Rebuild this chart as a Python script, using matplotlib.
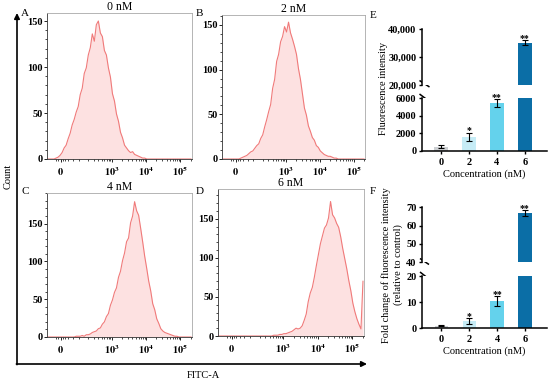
import numpy as np
import matplotlib.pyplot as plt
from matplotlib.ticker import FuncFormatter

plt.rcParams['font.family'] = ['Liberation Serif', 'DejaVu Serif']
plt.rcParams['mathtext.fontset'] = 'stix'

W, H = 550, 382

# ---- flow cytometry histograms (counts per channel bin, 72 bins) ----
hist_titles = ['0 nM', '2 nM', '4 nM', '6 nM']
hist_letters = ['A', 'B', 'C', 'D']
counts_0nM = [0, 0, 0, 0,
              1, 2, 4, 7, 12, 15, 22, 28, 37, 43, 51, 57, 70, 77, 93, 99, 113, 121, 136, 128,
              146, 150, 137, 133, 118, 113, 99, 89, 71, 63, 49, 41, 29, 23, 15, 12, 9, 7, 8, 5,
              4, 3, 2, 1, 1,
              0, 0, 0, 0, 0, 0, 0, 0, 0, 0, 0, 0, 0, 0, 0, 0, 0, 0, 0, 0, 0, 0, 0]
counts_2nM = [0, 0, 0, 0, 0, 0, 0, 0, 0,
              1, 2, 3, 4, 6, 8, 9, 12, 15, 17, 23, 27, 36, 44, 53, 61, 79, 89, 109, 117, 131,
              137, 148, 142, 153, 141, 134, 126, 117, 101, 89, 73, 57, 49, 37, 31, 24, 21, 15,
              13, 9, 7, 5, 4, 3, 3, 2, 1, 1,
              0, 0, 0, 0, 0, 0, 0, 0, 0, 0, 0, 0, 0, 0]
counts_4nM = [0, 0, 0, 0, 0, 0, 0, 0, 0, 0, 0, 0, 0, 0,
              1, 1, 1, 2, 1, 3, 3, 4, 6, 7, 8, 11, 12, 17, 20, 27, 31, 42, 49, 59, 65, 79, 87,
              101, 111, 126, 131, 151, 160, 179, 167, 161, 144, 126, 107, 91, 74, 61, 44, 36,
              24, 18, 11, 8, 6, 5, 4, 3, 2, 1, 1,
              0, 0, 0, 0, 0, 0, 0]
counts_6nM = [0, 0, 0, 0, 0, 0, 0, 0, 0, 0, 0, 0, 0, 0, 0, 0, 0, 0, 0, 0, 0, 0, 0, 0, 0, 0, 0,
              1, 1, 1, 2, 2, 3, 3, 4, 5, 6, 8, 10, 9, 10, 13, 20, 28, 44, 55, 62, 75, 90, 104,
              118, 128, 138, 142, 151, 172, 155, 151, 144, 139, 127, 112, 99, 86, 71, 58, 42,
              31, 22, 15, 9, 70]
hist_counts = [counts_0nM, counts_2nM, counts_4nM, counts_6nM]
hist_ymax = [158.7, 161, 190.5, 188]

# ---- bar charts ----
conc = ['0', '2', '4', '6']
intensity = [500, 1600, 5500, 35200]
intensity_err = [180, 500, 450, 900]
fold = [1.0, 2.8, 10.3, 66.8]
fold_err = [0.2, 1.1, 1.9, 1.8]
stars = ['', '*', '**', '**']
bar_colors = ['#cdd0d3', '#c6ecf6', '#64d2ec', '#0b6ea6']


def box(l, t, r, b):
    return [l / W, 1 - b / H, (r - l) / W, (b - t) / H]


fig = plt.figure(figsize=(W / 100, H / 100), dpi=100)

# overlay in pixel coordinates for arrows, letters and shared labels
ov = fig.add_axes([0, 0, 1, 1])
ov.set_xlim(0, W)
ov.set_ylim(H, 0)
ov.axis('off')

# biexponential-like display scale
C = 65.0
u_lo, u_hi = -0.925, 8.81


def fwd(x):
    return np.arcsinh(np.asarray(x, dtype=float) / C)


def inv(u):
    return C * np.sinh(np.asarray(u, dtype=float))


u_edges = np.linspace(u_lo, u_hi, 73)
centers = inv(0.5 * (u_edges[:-1] + u_edges[1:]))

hist_boxes = [(47, 13, 192, 159), (222, 15, 365, 159), (47, 193, 192, 337), (218, 189, 364, 336)]
minor_x = [-20, -10, 10, 20, 35, 60, 100] + [k * 10 ** n for n in (2, 3, 4) for k in range(2, 10)] + [2e5]

for i, (bx, counts) in enumerate(zip(hist_boxes, hist_counts)):
    ax = fig.add_axes(box(*bx))
    ax.set_xscale('function', functions=(fwd, inv))
    ax.fill_between(centers, counts, color='#fde1e1', lw=0)
    ax.plot(centers, counts, color='#f07a7a', lw=0.8)
    ax.set_xlim(inv(u_lo), inv(u_hi))
    ax.set_ylim(0, hist_ymax[i])
    ax.set_xticks([0, 1e3, 1e4, 1e5])
    ax.set_xticklabels([r'$\mathbf{0}$', r'$\mathbf{10^{3}}$', r'$\mathbf{10^{4}}$', r'$\mathbf{10^{5}}$'])
    ax.set_xticks(minor_x, minor=True)
    ax.set_yticks([0, 50, 100, 150])
    ax.set_yticks(np.arange(10, hist_ymax[i], 10), minor=True)
    ax.tick_params(axis='both', which='major', length=2.2, width=0.6, labelsize=7.5, pad=1.0)
    ax.tick_params(axis='x', which='major', pad=2.5)
    ax.tick_params(axis='both', which='minor', length=1.2, width=0.5)
    for lab in ax.get_yticklabels():
        lab.set_fontweight('bold')
    for s in ('left', 'bottom'):
        ax.spines[s].set_color('#333333')
        ax.spines[s].set_linewidth(0.6)
    for s in ('top', 'right'):
        ax.spines[s].set_color('#a8a8a8')
        ax.spines[s].set_linewidth(0.6)
    ax.set_title(hist_titles[i], fontsize=8.5, pad=1.5)

# panel letters
letters = ['A', 'B', 'C', 'D', 'E', 'F']
letter_pos = [(25, 13), (199, 13.5), (25, 191), (200, 192), (373, 15), (373, 191)]
for t, (x, y) in zip(letters, letter_pos):
    ov.text(x, y, t, fontsize=8, ha='center', va='center')

# shared axes arrows
arrow_kw = dict(arrowstyle='-|>', lw=1.2, color='black', mutation_scale=8, shrinkA=0, shrinkB=0)
ov.annotate('', xy=(17, 13), xytext=(17, 364.6), arrowprops=arrow_kw)
ov.annotate('', xy=(367, 364), xytext=(16.4, 364), arrowprops=arrow_kw)
ov.text(8, 176, 'Count', rotation=90, fontsize=7.5, ha='center', va='center')
ov.text(203, 375, 'FITC-A', fontsize=7.5, ha='center', va='center')


def broken_bars(top_box, bot_box, top_lim, bot_lim, top_ticks, bot_ticks, top_fmt,
                values, errs, brk_top, brk_bot):
    x = np.arange(len(conc))
    axes = []
    for bx, lim in ((top_box, top_lim), (bot_box, bot_lim)):
        ax = fig.add_axes(box(*bx))
        ax.bar(x, values, width=0.475, color=bar_colors, yerr=errs,
               error_kw=dict(ecolor='black', elinewidth=0.8, capsize=2.3, capthick=0.8))
        ax.set_xlim(-0.70, 3.79)
        ax.set_ylim(*lim)
        ax.spines['top'].set_visible(False)
        ax.spines['right'].set_visible(False)
        ax.spines['left'].set_linewidth(1.1)
        ax.spines['bottom'].set_linewidth(1.1)
        ax.tick_params(axis='both', length=2.5, width=1.0, labelsize=7.5, pad=1.2)
        axes.append(ax)
    top, bot = axes
    top.spines['bottom'].set_visible(False)
    top.set_xticks([])
    top.set_yticks(top_ticks)
    top.yaxis.set_major_formatter(FuncFormatter(top_fmt))
    bot.set_yticks(bot_ticks)
    bot.set_xticks(x)
    bot.set_xticklabels(conc)
    bot.tick_params(axis='x', pad=2.5)
    for ax in axes:
        for lab in ax.get_xticklabels() + ax.get_yticklabels():
            lab.set_fontweight('bold')
    bot.set_xlabel('Concentration (nM)', fontsize=7.5, labelpad=1.5)
    for i, (v, e, s) in enumerate(zip(values, errs, stars)):
        if not s:
            continue
        ax = top if v + e > bot_lim[1] else bot
        ax.annotate(s, (i, v + e), xytext=(0, -0.6), textcoords='offset points',
                    ha='center', va='baseline', fontsize=7, fontweight='bold')
    for (x0, y0, x1, y1) in (brk_top, brk_bot):
        ov.plot([x0, x1], [y0, y1], color='black', lw=1.1, solid_capstyle='butt')
    return top, bot


broken_bars((421.5, 29.3, 547, 85.3), (421.5, 98.3, 547, 151),
            (20000, 40000), (0, 6000), [20000, 30000, 40000], [0, 2000, 4000, 6000],
            lambda v, p: f'{v:,.0f}', intensity, intensity_err,
            (419.5, 80.5, 429.5, 87), (419.5, 94, 427.5, 100))
ov.text(383, 88, 'Fluorescence intensity', rotation=90, fontsize=7.5, ha='center', va='center')

broken_bars((421.7, 207.3, 547, 262.3), (421.7, 276, 547, 328.3),
            (40, 70), (0, 20), [40, 50, 60, 70], [0, 10, 20],
            lambda v, p: f'{v:.0f}', fold, fold_err,
            (420, 258.5, 429, 264.5), (420, 272, 427, 277.5))
ov.text(392, 265, 'Fold change of fluorescence intensity\n(relative to control)',
        rotation=90, fontsize=7.5, ha='center', va='center', linespacing=1.3)

fig.savefig('out.png', dpi=100)
